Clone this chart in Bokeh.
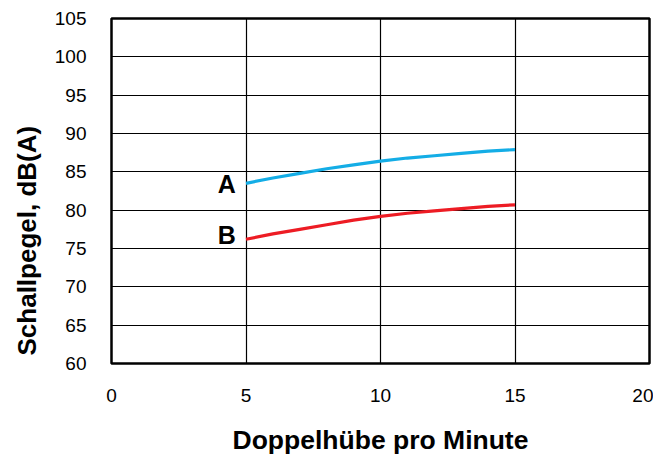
import math
from bokeh.plotting import figure
from bokeh.models import Label, FixedTicker, Range1d, Title
from bokeh.embed import file_html
from bokeh.resources import INLINE

# Data
x_vals = [5, 6, 7, 8, 9, 10, 11, 12, 13, 14, 15]
series_a = [83.5, 84.2, 84.8, 85.4, 85.9, 86.4, 86.8, 87.1, 87.4, 87.7, 87.9]
series_b = [76.2, 76.9, 77.5, 78.1, 78.7, 79.2, 79.6, 79.9, 80.2, 80.5, 80.7]
x_ticks = [0, 5, 10, 15, 20]
y_ticks = [60, 65, 70, 75, 80, 85, 90, 95, 100, 105]
x_title = "Doppelhübe pro Minute"
y_title = "Schallpegel, dB(A)"
names = ["A", "B"]

FONT = "Liberation Sans"

p = figure(
    output_backend="svg", toolbar_location=None,
    frame_width=538, frame_height=345,
    min_border_left=111, min_border_right=4, min_border_top=18, min_border_bottom=94,
    x_range=Range1d(0, 20), y_range=Range1d(60, 105),
)
p.background_fill_color = "white"
p.border_fill_color = "white"
p.outline_line_color = "black"
p.outline_line_width = 2.5

for ax in (p.xaxis[0], p.yaxis[0]):
    ax.axis_line_color = None
    ax.major_tick_line_color = None
    ax.minor_tick_line_color = None
    ax.major_label_text_font = FONT
    ax.major_label_text_font_size = "19px"
    ax.major_label_text_color = "black"

p.xaxis[0].ticker = FixedTicker(ticks=x_ticks)
p.yaxis[0].ticker = FixedTicker(ticks=y_ticks)
p.xaxis[0].major_label_standoff = 19
p.yaxis[0].major_label_standoff = 19
p.xaxis[0].axis_label = x_title
p.xaxis[0].axis_label_text_font = FONT
p.xaxis[0].axis_label_text_font_style = "bold"
p.xaxis[0].axis_label_text_font_size = "26.5px"
p.xaxis[0].axis_label_text_color = "black"
p.xaxis[0].axis_label_standoff = 20

p.xgrid.ticker = FixedTicker(ticks=x_ticks)
p.ygrid.ticker = FixedTicker(ticks=y_ticks)
for g in (p.xgrid[0], p.ygrid[0]):
    g.grid_line_color = "black"
    g.grid_line_width = 1.2

p.line(x_vals, series_a, line_color="#14ADE6", line_width=3.2)
p.line(x_vals, series_b, line_color="#ED1C24", line_width=3.2)

p.add_layout(Label(x=4.62, y=83.4, text=names[0], text_align="right", text_baseline="middle",
                   text_font=FONT, text_font_style="bold", text_font_size="25px", text_color="black"))
p.add_layout(Label(x=4.62, y=76.8, text=names[1], text_align="right", text_baseline="middle",
                   text_font=FONT, text_font_style="bold", text_font_size="25px", text_color="black"))

yt = Title(text=y_title, align="left", offset=8, standoff=19,
           text_font=FONT, text_font_style="bold", text_font_size="26px", text_color="black")
p.add_layout(yt, "left")

open("out.html", "w").write(file_html(p, INLINE))
